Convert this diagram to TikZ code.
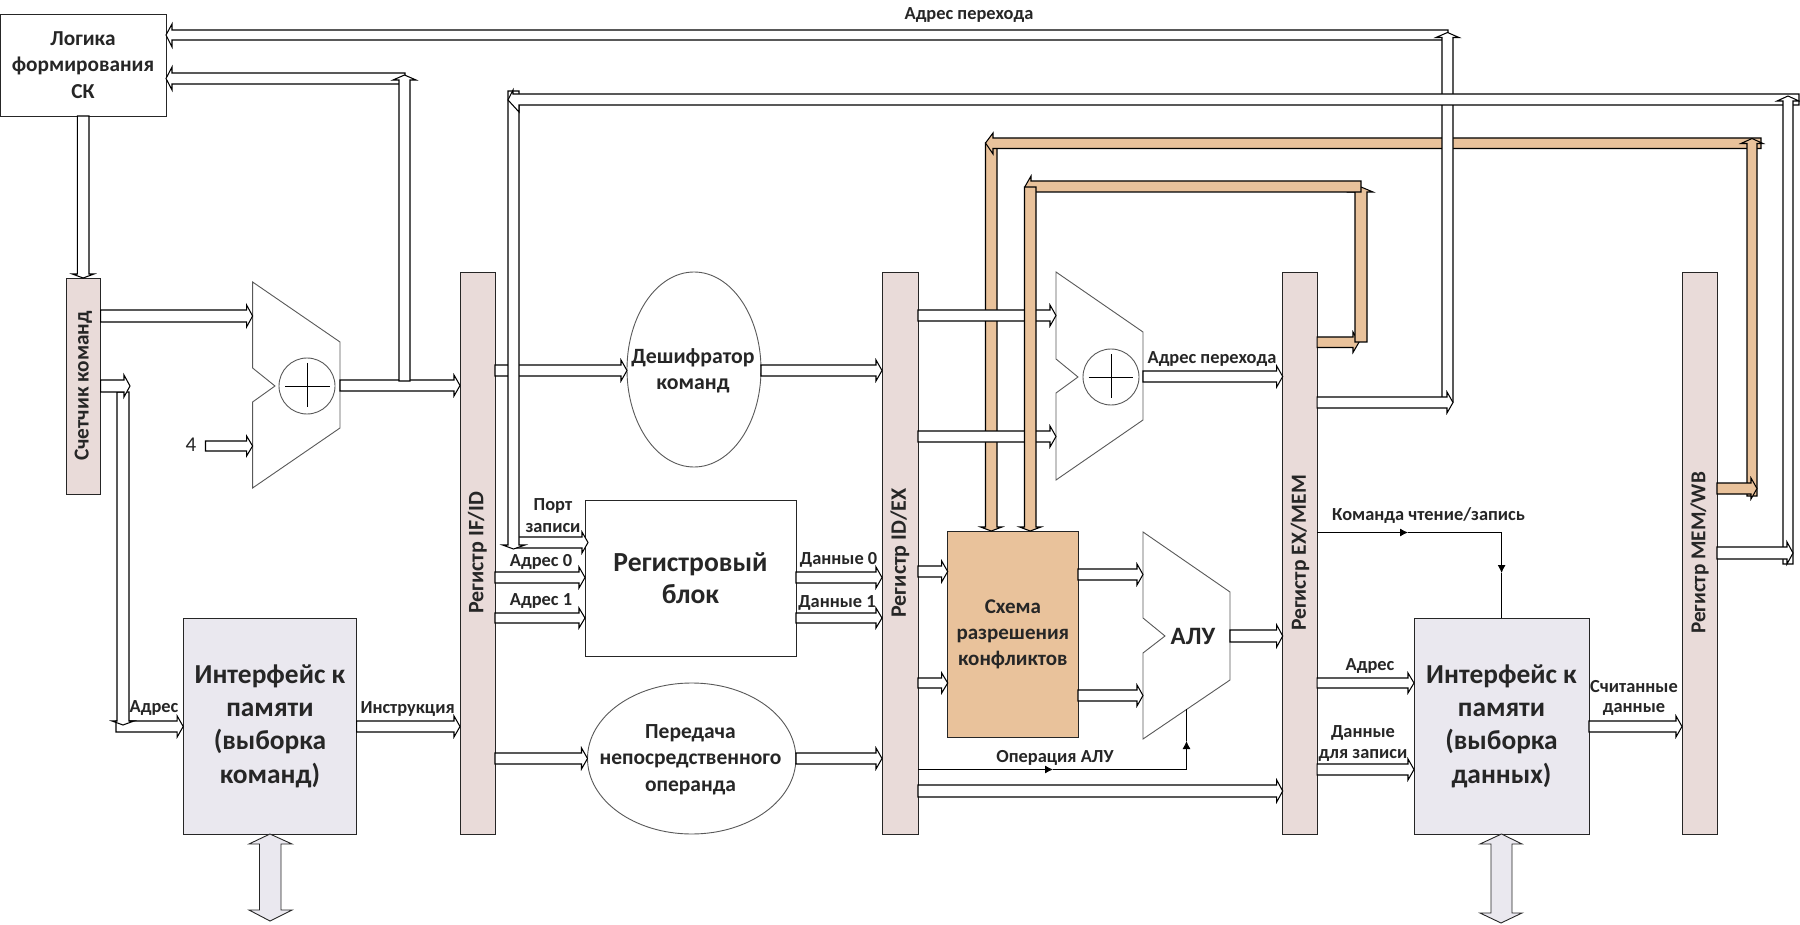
\documentclass[tikz,border=0pt]{standalone}
\usepackage{fontspec}
\usepackage{graphicx}
\setmainfont{Carlito}
\usetikzlibrary{arrows.meta}
\definecolor{regfill}{HTML}{E9DBD9}
\definecolor{memfill}{HTML}{EAE8EF}
\definecolor{hazfill}{HTML}{E9C29B}
\newcommand\fs[1]{\fontsize{#1}{#1}\selectfont\bfseries}
\tikzset{
  x=1pt,y=-1pt,
  every node/.style={inner sep=0pt,outer sep=0pt,align=center,text=black!85},
  boxed/.style={draw=black!85,line width=0.9pt,minimum width=#1},
  regbar/.style={draw=black!85,line width=0.9pt,fill=regfill,minimum width=#1},
  oval/.style={draw=black!65,line width=0.9pt},
  buswire/.style={draw=black,line width=1.05pt,line join=miter},
  thinwire/.style={draw=black,line width=0.9pt},
  shapeline/.style={draw=black!65,line width=0.9pt,line join=miter},
  plusline/.style={draw=black,line width=0.8pt},
  lab/.style={font=\fs{18.4}},
  tri/.style={-{Latex[length=8pt,width=8pt]}},
}
% bus arrows: [fill]{source}{target}{near/top line}{far/bottom line}
\newcommand\busR[5][white]{\draw[buswire,fill=#1]
  (#2 |- 0,#4) -- ([xshift=-6pt]#3 |- 0,#4) -- ([xshift=-6pt]#3 |- 0,{#4-5}) -- (#3 |- 0,{(#4+#5)/2})
  -- ([xshift=-6pt]#3 |- 0,{#5+5}) -- ([xshift=-6pt]#3 |- 0,#5) -- (#2 |- 0,#5) -- cycle;}
\newcommand\busL[5][white]{\draw[buswire,fill=#1]
  (#2 |- 0,#4) -- ([xshift=6pt]#3 |- 0,#4) -- ([xshift=6pt]#3 |- 0,{#4-6}) -- (#3 |- 0,{(#4+#5)/2})
  -- ([xshift=6pt]#3 |- 0,{#5+6}) -- ([xshift=6pt]#3 |- 0,#5) -- (#2 |- 0,#5) -- cycle;}
\newcommand\busD[5][white]{\draw[buswire,fill=#1]
  (#4,0 |- #2) -- ([yshift=4pt]#4,0 |- #3) -- ([yshift=4pt]{#4-5},0 |- #3) -- ({(#4+#5)/2},0 |- #3)
  -- ([yshift=4pt]{#5+5},0 |- #3) -- ([yshift=4pt]#5,0 |- #3) -- (#5,0 |- #2) -- cycle;}
\newcommand\busU[5][white]{\draw[buswire,fill=#1]
  (#4,0 |- #2) -- ([yshift=-5pt]#4,0 |- #3) -- ([yshift=-5pt]{#4-6},0 |- #3) -- ({(#4+#5)/2},0 |- #3)
  -- ([yshift=-5pt]{#5+6},0 |- #3) -- ([yshift=-5pt]#5,0 |- #3) -- (#5,0 |- #2) -- cycle;}
\begin{document}
\begin{tikzpicture}
\useasboundingbox (0,0) rectangle (1800,925);
\fill[white] (0,0) rectangle (1800,925);

% ---- corner points of the routed buses
\coordinate (c-top) at (1448,32.5);
\coordinate (c-low) at (1448,402);
\coordinate (c-add1top) at (405,75);
\coordinate (c-add1bot) at (405,381);
\coordinate (c-wbtop) at (1788,96);
\coordinate (c-wbbot) at (1788,564);
\coordinate (c-fwd1a) at (1752,138.5);
\coordinate (c-fwd1b) at (1752,496);
\coordinate (c-fwd1c) at (991,143);
\coordinate (c-fwd2a) at (1361,187);
\coordinate (c-fwd2b) at (1361,342);
\coordinate (c-pc1) at (123,392);
\coordinate (c-pc2) at (123,725);
\coordinate (c-pc3) at (116,726);
\coordinate (c-four) at (205.5,446);
\coordinate (c-add1w) at (252.6,386);
\coordinate (c-add1e) at (340,386);
\coordinate (c-add2w) at (1056,377);
\coordinate (c-add2e) at (1143,377);
\coordinate (c-aluw) at (1143,636);
\coordinate (c-alue) at (1230,636);
\coordinate (c-portw) at (588,542);
\coordinate (c-portl) at (516,542);

% ---- blocks
\node[boxed=166pt,minimum height=102pt,font=\fs{21.3},anchor=north west] (logic) at (0,14) {Логика\\[5pt]формирования\\[5pt]СК};
\node[regbar=34.6pt,minimum height=216pt,anchor=north west] (pc) at (66,278) {\rotatebox{90}{\fs{21.3}Счетчик команд}};
\node[regbar=35pt,minimum height=562pt,anchor=north west] (ifid) at (460,272) {\rotatebox{90}{\fs{22}Регистр IF/ID}};
\node[regbar=36pt,minimum height=562pt,anchor=north west] (idex) at (882,272) {\rotatebox{90}{\fs{22}Регистр ID/EX}};
\node[regbar=34.5pt,minimum height=562pt,anchor=north west] (exmem) at (1282.7,272) {\rotatebox{90}{\fs{21.6}Регистр EX/MEM}};
\node[regbar=35pt,minimum height=562pt,anchor=north west] (memwb) at (1682,272) {\rotatebox{90}{\fs{21.2}Регистр MEM/WB}};
\node[boxed=173.5pt,fill=memfill,minimum height=216pt,font=\fs{27.4},anchor=north west] (imem) at (183.2,618) {\raisebox{-2pt}{Интерфейс к}\\[6pt]\raisebox{-2pt}{памяти}\\[6pt]\raisebox{-2pt}{(выборка}\\[6pt]\raisebox{-2pt}{команд)}};
\node[boxed=175pt,fill=memfill,minimum height=216pt,font=\fs{27.4},anchor=north west] (dmem) at (1414,618) {\raisebox{-2pt}{Интерфейс к}\\[6pt]\raisebox{-2pt}{памяти}\\[6pt]\raisebox{-2pt}{(выборка}\\[6pt]\raisebox{-2pt}{данных)}};
\node[boxed=211pt,minimum height=156pt,font=\fs{27.6},anchor=north west] (regs) at (585,500) {Регистровый\\[5pt]блок};
\node[boxed=130.3pt,fill=hazfill,minimum height=206pt,font=\fs{21},anchor=north west] (haz) at (947.7,531) {\raisebox{-1pt}{Схема}\\[5pt]\raisebox{-1pt}{разрешения}\\[5pt]\raisebox{-1pt}{конфликтов}};
\draw[oval] (694,369.5) ellipse [x radius=67,y radius=97.5];
\coordinate (dec-w) at (627,369.5);
\coordinate (dec-e) at (761,369.5);
\node[font=\fs{21.8},align=center] (dec) at (693,371) {Дешифратор\\[4pt]команд};
\draw[oval] (691.7,758.5) ellipse [x radius=104.2,y radius=75.5];
\coordinate (imm-w) at (587.5,758.5);
\coordinate (imm-e) at (796,758.5);
\node[font=\fs{21.5},align=center] (imm) at (690.5,759.5) {Передача\\[5pt]непосредственного\\[5pt]операнда};

% ---- adders and ALU
\draw[shapeline,fill=white] (252.6,282) -- (340,342) -- (340,428) -- (252.6,488) -- (252.6,402) -- (275,386) -- (252.6,368) -- cycle;
\draw[shapeline] (307,386) circle [radius=28];
\draw[plusline] (285,386) -- (330,386) (307,363) -- (307,407);
\draw[shapeline,fill=white] (1056,272) -- (1143,332) -- (1143,420) -- (1056,480) -- (1056,393) -- (1078,377) -- (1056,359) -- cycle;
\draw[shapeline] (1111,377) circle [radius=28];
\draw[plusline] (1088.5,377) -- (1133,377) (1111,354) -- (1111,398);
\draw[shapeline,fill=white] (1143,532) -- (1230,592) -- (1230,680) -- (1143,739) -- (1143,653) -- (1165,636) -- (1143,618) -- cycle;
\node[font=\fs{25}] (alu) at (1193,636) {АЛУ};

% ---- buses: program-counter side
\draw[buswire,fill=white] (1448,30) -- (1448,40) -- (172,40) -- (172,47) -- (logic.east |- 0,35) -- (172,24) -- (172,30) -- cycle;
\busL{c-add1top}{logic.east}{73}{84}
\busD{logic.south}{pc.north}{77.3}{89}
\busR{pc.east}{c-add1w}{310}{322}
\busR{c-four}{c-add1w}{441}{451}
\busR{c-add1e}{ifid.west}{380}{391}
\busU{c-add1bot}{c-add1top}{399}{410}
\busR{c-pc3}{imem.west}{721}{732}
\busD{c-pc1}{c-pc2}{117}{129}
\busR{pc.east}{130,0}{380}{392}
\busR{imem.east}{ifid.west}{721}{732}

% ---- decode stage
\busR{ifid.east}{dec-w}{365}{376}
\busR{dec-e}{idex.west}{365}{376}
\busR{c-portl}{c-portw}{537}{548}
\draw[buswire,fill=white] (508,91) -- (519,91) -- (519,545) -- (525,545) -- (513.5,549) -- (502.5,545) -- (508,545) -- cycle;
\busR{ifid.east}{regs.west}{572}{583}
\busR{ifid.east}{regs.west}{613}{623}
\busR{regs.east}{idex.west}{572}{583}
\busR{regs.east}{idex.west}{613}{623}
\busR{ifid.east}{imm-w}{753}{764}
\busR{imm-e}{idex.west}{753}{764}
\busR{idex.east}{haz.west}{566}{577}
\busR{idex.east}{haz.west}{678}{688}
\busR{idex.east}{exmem.west}{785}{797}

% ---- forwarding buses
\busD[hazfill]{c-fwd1c}{haz.north}{985.5}{997}
\busR{idex.east}{c-add2w}{310}{321}
\busR{idex.east}{c-add2w}{431}{442}
\busR{c-add2e}{exmem.west}{371}{382}
\busR[hazfill]{exmem.east}{1359,0}{337}{347.5}
\busU[hazfill]{c-fwd2b}{c-fwd2a}{1355}{1367}
\draw[buswire,fill=hazfill] (1361,181) -- (1361,192) -- (1031,192) -- (1031,197) -- (1025,186.5) -- (1031,176) -- (1031,181) -- cycle;
\busD[hazfill]{1030,187}{haz.north}{1024.5}{1036}
\draw[buswire,fill=hazfill] (1761,138) -- (1761,148.5) -- (993,148.5) -- (993,154) -- (985.5,143) -- (993,133) -- (993,138) -- cycle;
\busU[hazfill]{c-fwd1b}{c-fwd1a}{1747}{1757}
\busR[hazfill]{memwb.east}{1757,0}{483}{494}

% ---- ALU and memory stage
\busR{haz.east}{c-aluw}{569}{580}
\busR{haz.east}{c-aluw}{690}{701}
\busR{c-alue}{exmem.west}{630}{642}
\busR{exmem.east}{dmem.west}{678}{688}
\busR{exmem.east}{dmem.west}{764}{775}
\busR{dmem.east}{memwb.west}{721}{732}

% ---- branch address and write-back (on top)
\busU{c-low}{c-top}{1442}{1453}
\busR{exmem.east}{1453,0}{397}{408}
\draw[buswire,fill=white] (1799,94) -- (1799,105) -- (519,105) -- (519,112) -- (508,100) -- (513,90) -- (513,94) -- cycle;
\busU{c-wbbot}{c-wbtop}{1783}{1793}
\busR{memwb.east}{1793,0}{547}{559}

% ---- memory data buses
\draw[buswire,draw=black!85,line width=0.9pt,fill=memfill] (imem.south) -- (292,844) -- (281,844) -- (281,910) -- (292,910) -- (270,921) -- (249,910) -- (259.5,910) -- (259.5,844) -- (249,844) -- cycle;
\draw[buswire,draw=black!85,line width=0.9pt,fill=memfill] (dmem.south) -- (1522,844) -- (1512,844) -- (1512,913) -- (1522,913) -- (1501,923) -- (1480,913) -- (1491,913) -- (1491,844) -- (1480,844) -- cycle;

% ---- single-line controls
\coordinate (c-opmid) at (1053,769.5);
\coordinate (c-opcorner) at (1186.5,769.5);
\coordinate (c-opup) at (1186.5,741);
\coordinate (c-opend) at (1186.5,709);
\coordinate (c-cmdmid) at (1408,532.5);
\coordinate (c-cmdcorner) at (1501.6,532.5);
\coordinate (c-cmddown) at (1501.6,573);
\draw[thinwire,tri] (idex.east |- c-opmid) -- (c-opmid);
\draw[thinwire] (c-opmid) -- (c-opcorner);
\draw[thinwire,tri] (c-opcorner) -- (c-opup);
\draw[thinwire] (c-opup) -- (c-opend);
\draw[thinwire,tri] (exmem.east |- c-cmdmid) -- (c-cmdmid);
\draw[thinwire] (c-cmdmid) -- (c-cmdcorner);
\draw[thinwire,tri] (c-cmdcorner) -- (c-cmddown);
\draw[thinwire] (c-cmddown) -- (c-cmddown |- dmem.north);

% ---- labels
\node[lab] (t1) at (969,15) {Адрес перехода};
\node[lab] (t2) at (1212,359) {Адрес перехода};
\node[font=\fontsize{21}{21}\selectfont] (t3) at (191,445) {4};
\node[lab] (t4) at (154,708) {Адрес};
\node[lab] (t5) at (407.6,709) {Инструкция};
\node[lab] (t6) at (553,506) {Порт};
\node[lab] (t7) at (553,528) {записи};
\node[lab] (t8) at (541,562) {Адрес 0};
\node[lab] (t9) at (541,601) {Адрес 1};
\node[lab] (t10) at (838.6,560) {Данные 0};
\node[lab] (t11) at (837,603) {Данные 1};
\node[lab] (t12) at (1055,758) {Операция АЛУ};
\node[lab] (t13) at (1428.6,516) {Команда чтение/запись};
\node[lab] (t14) at (1370,666) {Адрес};
\node[lab] (t15) at (1363,733) {Данные};
\node[lab] (t16) at (1363,755) {для записи};
\node[lab] (t17) at (1634,687) {Считанные};
\node[lab] (t18) at (1634,709) {данные};
\end{tikzpicture}
\end{document}
